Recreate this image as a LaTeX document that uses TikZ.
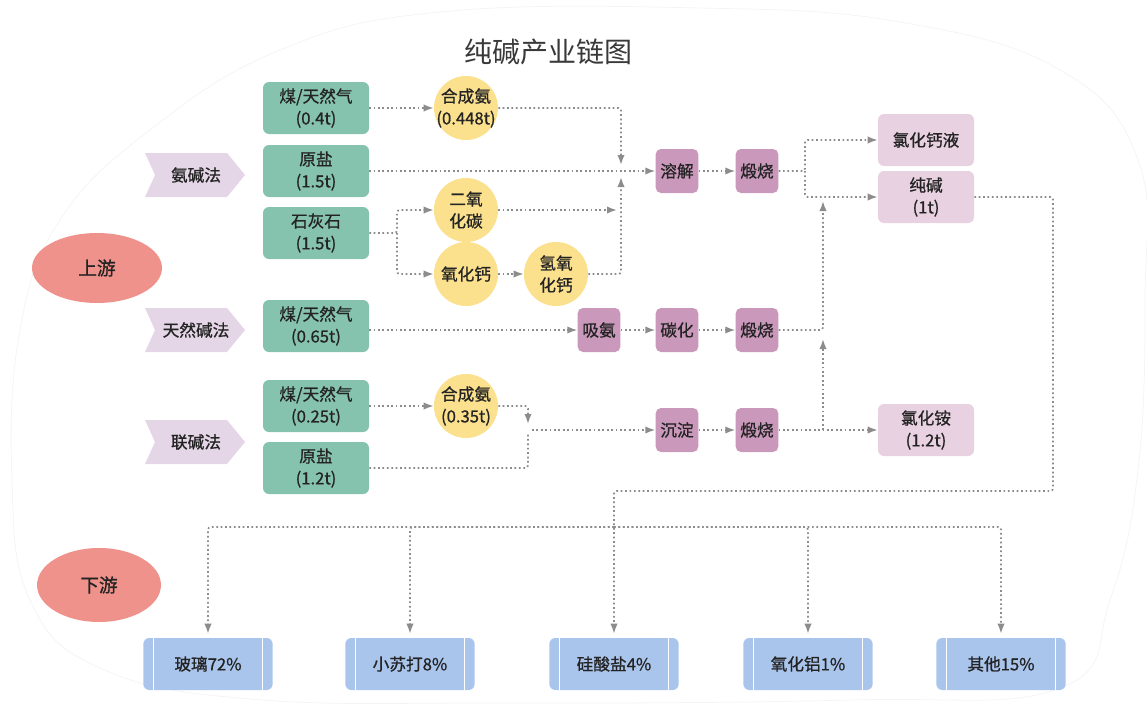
\documentclass[tikz,border=0pt]{standalone}
\usepackage{fontspec}
\setmainfont{Noto Sans CJK SC}[FakeBold=0.8]
\newfontfamily\titlefont{Noto Sans CJK SC}
\usetikzlibrary{arrows.meta,shapes.geometric,calc}
\definecolor{gboxc}{RGB}{133,195,174}
\definecolor{ycc}{RGB}{251,224,142}
\definecolor{pcc}{RGB}{202,152,186}
\definecolor{rcc}{RGB}{232,209,224}
\definecolor{tagc}{RGB}{228,213,231}
\definecolor{elc}{RGB}{240,146,140}
\definecolor{bcc}{RGB}{169,197,236}
\definecolor{lnc}{RGB}{140,140,140}
\definecolor{txc}{RGB}{35,35,35}
\newcommand\nodefont{\fontsize{12.5}{16.5}\selectfont}
\begin{document}
\begin{tikzpicture}[x=0.75pt,y=-0.75pt,
  every node/.style={text=txc, font=\nodefont, align=center},
  gbox/.style={rectangle, rounded corners=4.5pt, fill=gboxc, minimum width=79.5pt, minimum height=39pt, inner sep=0pt},
  ycirc/.style={circle, fill=ycc, minimum size=48pt, inner sep=-5pt},
  pbox/.style={rectangle, rounded corners=4pt, fill=pcc, minimum width=32pt, minimum height=33pt, inner sep=0pt},
  rbox/.style={rectangle, rounded corners=4.5pt, fill=rcc, minimum width=72pt, minimum height=39pt, inner sep=0pt},
  bbox/.style={rectangle, rounded corners=4.5pt, fill=bcc, minimum width=97pt, minimum height=39pt, inner sep=0pt,
    path picture={
      \draw[white, line width=0.8pt] ([xshift=7.5pt]path picture bounding box.north west) -- ([xshift=7.5pt]path picture bounding box.south west);
      \draw[white, line width=0.8pt] ([xshift=-7.5pt]path picture bounding box.north east) -- ([xshift=-7.5pt]path picture bounding box.south east);}},
  ell/.style={ellipse, fill=elc, inner sep=0pt, font=\fontsize{14}{16}\selectfont},
  lnk/.style={draw=lnc, line width=1.3pt, dash pattern=on 1.3pt off 2pt, rounded corners=2pt},
  arr/.style={lnk, -{Latex[length=7.5pt,width=5.5pt]}}
]
\useasboundingbox (0,0) rectangle (1147,707);
% faint background outline
\draw[gray!9, line width=0.6pt] plot[smooth cycle, tension=0.7] coordinates {
 (440,12) (700,8) (900,22) (1060,70) (1138,160) (1145,300) (1138,470) (1110,600) (1060,688)
 (850,700) (500,703) (250,699) (100,668) (30,600) (12,480) (20,330) (60,220) (150,130) (280,50)};

\node[text=txc!90] (title) at (548,52) {\titlefont\fontsize{21}{24}\selectfont 纯碱产业链图};

% ellipses
\node[ell, minimum width=97.5pt, minimum height=52.5pt] (e1) at (97,268) {上游};
\node[ell, minimum width=93pt, minimum height=55.5pt] (e2) at (99,585) {下游};

% tags
\fill[tagc] (145,153) -- (227,153) -- (245,175) -- (227,197) -- (145,197) -- (155,175) -- cycle;
\node (t1) at (196,175) {氨碱法};
\fill[tagc] (145,308) -- (227,308) -- (245,330) -- (227,352) -- (145,352) -- (155,330) -- cycle;
\node (t2) at (196,330) {天然碱法};
\fill[tagc] (145,420) -- (227,420) -- (245,442) -- (227,464) -- (145,464) -- (155,442) -- cycle;
\node (t3) at (196,442) {联碱法};

% green boxes
\node[gbox] (g1) at (316,108) {煤/天然气\\(0.4t)};
\node[gbox] (g2) at (316,171) {原盐\\(1.5t)};
\node[gbox] (g3) at (316,233) {石灰石\\(1.5t)};
\node[gbox] (g4) at (316,326) {煤/天然气\\(0.65t)};
\node[gbox] (g5) at (316,406) {煤/天然气\\(0.25t)};
\node[gbox] (g6) at (316,468) {原盐\\(1.2t)};

% yellow circles
\node[ycirc] (y1) at (466,108) {合成氨\\(0.448t)};
\node[ycirc] (y2) at (466,210) {二氧\\化碳};
\node[ycirc] (y3) at (466,274) {氧化钙};
\node[ycirc] (y4) at (556,274) {氢氧\\化钙};
\node[ycirc] (y5) at (466,406) {合成氨\\(0.35t)};

% purple process boxes
\node[pbox] (p1) at (677,171) {溶解};
\node[pbox] (p2) at (757,171) {煅烧};
\node[pbox] (p3) at (599,330) {吸氨};
\node[pbox] (p4) at (677,330) {碳化};
\node[pbox] (p5) at (757,330) {煅烧};
\node[pbox] (p6) at (677,430) {沉淀};
\node[pbox] (p7) at (757,430) {煅烧};

% result boxes
\node[rbox] (r1) at (926,140) {氯化钙液};
\node[rbox] (r2) at (926,197) {纯碱\\(1t)};
\node[rbox] (r3) at (926,430) {氯化铵\\(1.2t)};

% downstream boxes
\node[bbox] (b1) at (208,664) {玻璃72\%};
\node[bbox] (b2) at (410,664) {小苏打8\%};
\node[bbox] (b3) at (614,664) {硅酸盐4\%};
\node[bbox] (b4) at (808,664) {氧化铝1\%};
\node[bbox] (b5) at (1001,664) {其他15\%};

% junction coordinates
\coordinate (j1) at (621,165);
\coordinate (j2) at (617,210);
\coordinate (j3) at (621,177);
\coordinate (s1) at (397,233);
\coordinate (s2) at (805,171);
\coordinate (j4) at (823,201);
\coordinate (j5) at (528,424);
\coordinate (j6) at (528,434);
\coordinate (s3) at (532,430);
\coordinate (s4) at (823,430);
\coordinate (j7) at (823,339);
\coordinate (c1) at (1053,491);
\coordinate (s5) at (614,527);

% connectors: ammonia-soda
\draw[arr] (g1.east) -- (y1.west);
\draw[arr] (y1.east) -| (j1);
\draw[arr] (g2.east) -- (p1.west);
\draw[arr] (y2.east) -- (j2);
\draw[arr] (y4.east) -| (j3);
\draw[arr] (g3.east) -- (s1) |- (y2.west);
\draw[arr] (s1) |- (y3.west);
\draw[arr] (y3.east) -- (y4.west);
\draw[arr] (p1.east) -- (p2.west);
\draw[arr] (p2.east) -- (s2) |- (r1.west);
\draw[arr] (s2) |- (r2.west);
% natural soda
\draw[arr] (g4.east |- p3.west) -- (p3.west);
\draw[arr] (p3.east) -- (p4.west);
\draw[arr] (p4.east) -- (p5.west);
\draw[arr] (p5.east) -| (j4);
% combined
\draw[arr] (g5.east) -- (y5.west);
\draw[arr] (y5.east) -| (j5);
\draw[lnk] (g6.east) -| (j6);
\draw[arr] (s3) -- (p6.west);
\draw[arr] (p6.east) -- (p7.west);
\draw[arr] (p7.east) -- (r3.west);
\draw[arr] (s4) -- (j7);
% downstream
\draw[arr, shorten >=3pt] (r2.east) -| (c1) -| (b3.north);
\draw[arr, shorten >=3pt] (s5) -| (b1.north);
\draw[arr, shorten >=3pt] (s5) -| (b2.north);
\draw[arr, shorten >=3pt] (s5) -| (b4.north);
\draw[arr, shorten >=3pt] (s5) -| (b5.north);
\end{tikzpicture}
\end{document}
